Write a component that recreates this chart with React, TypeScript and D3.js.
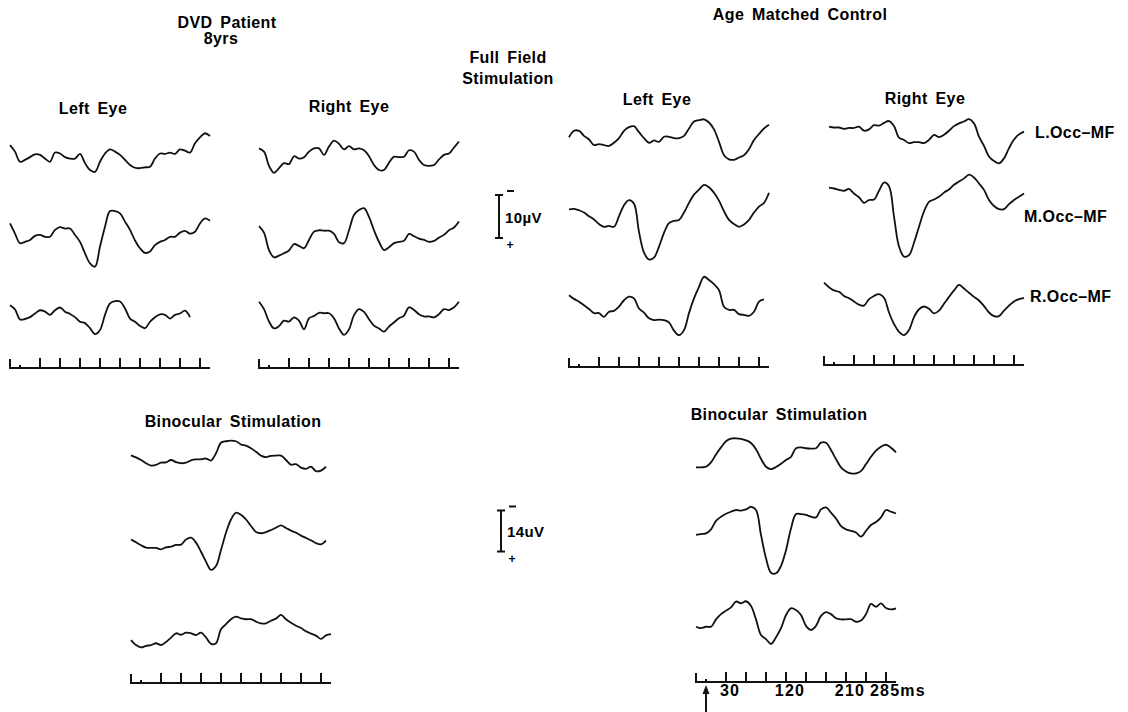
import React from "react";
import * as d3 from "d3";

const sampleMs = [
  -15, -7.5, 0, 7.5, 15, 22.5, 30, 37.5, 45, 52.5, 60, 67.5, 75, 82.5, 90, 97.5,
  105, 112.5, 120, 127.5, 135, 142.5, 150, 157.5, 165, 172.5, 180, 187.5, 195,
  202.5, 210, 217.5, 225, 232.5, 240, 247.5, 255, 262.5, 270, 277.5, 285,
];
const tickMs = [30, 60, 90, 120, 150, 180, 210, 240, 270];
const tickLabels = [
  { ms: 30, text: "30" },
  { ms: 120, text: "120" },
  { ms: 210, text: "210" },
];
const lastLabel = { ms: 285, text: "285ms" };

// DVD patient, left eye (µV, negative = up)
const dvdLeftL = [-2.5, -1.1, 1.1, 0.7, 0.1, -0.5, -0.4, 0.4, 1.1, -0.9, -0.7, 0.1, 0.4, 0.4, -0.6, 1.4, 2.9, 3.3, 1.1, -0.7, -1.6, -1.1, -0.4, 0.7, 1.8, 2.4, 2.5, 2.3, 2.2, 0.4, -0.7, -0.6, -0.9, -0.6, -1.6, -1.3, -0.9, -2.9, -4.2, -5.1, -4.5];
const dvdLeftM = [-3.6, -1.4, 0.7, 0.4, 0, -0.9, -1.1, -0.7, -0.7, -2.2, -2.8, -2.5, -2.5, -1.1, 0.4, 2.9, 5.1, 5.8, 1.4, -2.9, -6.3, -6.3, -5.8, -4.0, -2.2, 0.1, 1.8, 2.8, 2.5, 1.1, 0.4, 0, -0.7, -0.7, -1.6, -2.0, -1.4, -1.8, -3.6, -4.7, -4.2];
const dvdLeftR = [-2.5, -1.6, 0.6, 0.5, 0.1, -0.7, -1.4, -1.1, -0.4, -1.4, -2.0, -1.1, -0.6, 0.1, 1.1, 1.4, 2.5, 3.8, 2.9, -0.4, -2.9, -3.4, -3.3, -1.8, 0.4, 1.1, 2.0, 2.5, 1.1, 0.1, -0.5, -0.4, 0.4, -0.4, -0.7, -1.3, 0.1, null, null, null, null];

// DVD patient, right eye
const dvdRightL = [-1.8, -1.1, 2.0, 3.5, 2.5, 1.4, 1.6, -0.1, 0.4, 0.1, -1.1, -1.8, -1.8, -0.4, -2.2, -3.5, -2.8, -1.6, -2.3, -1.6, -1.8, -1.4, -0.1, 1.8, 2.9, 2.9, 1.3, 0, 0.1, 0, -1.4, -1.1, 0.7, 1.8, 2.0, 1.8, 0.6, -0.4, -0.7, -2.0, -3.3];
const dvdRightM = [-2.3, -0.9, 2.9, 4.5, 4.1, 3.6, 3.0, 1.6, 2.0, 2.5, 0.7, -1.1, -1.4, -1.3, -1.3, -0.6, 1.2, 1.4, -1.4, -4.7, -5.8, -6.2, -4.3, -1.4, 1.1, 2.9, 2.3, 1.4, 1.1, 0.9, -0.6, -0.1, 0.4, 0.7, 1.1, 0.9, 0.2, -0.4, -1.4, -2.0, -3.3];
const dvdRightR = [-3.6, -2.0, 0.7, 2.2, 1.7, 0.5, 0.7, -0.2, 0.5, 2.4, 0, -0.5, -1.2, -1.1, -1.1, 0, 2.2, 3.6, 2.4, -0.7, -2.0, -1.4, 0.2, 1.6, 2.2, 2.9, 1.8, 0.9, 0, -0.6, -2.4, -1.8, -0.9, -0.4, -0.4, -0.2, -0.9, -2.0, -1.8, -2.4, -3.6];

// age matched control, left eye
const ctrlLeftL = [-0.6, -2.0, -2.0, -0.9, -0.1, 1.1, 0.9, 1.1, 1.3, 0.6, -0.4, -2.0, -2.8, -3.0, -1.7, -0.4, 0.6, 0.1, 0.4, -0.7, -0.7, -0.4, -0.4, -0.9, -2.5, -4.0, -4.3, -4.5, -3.8, -2.3, 0.4, 3.3, 4.2, 4.3, 3.8, 3.3, 2.0, 0, -1.3, -2.5, -3.3];
const ctrlLeftM = [-1.6, -1.7, -1.4, -0.9, -0.1, 0.6, 1.6, 2.2, 2.0, 2.2, -0.1, -2.5, -3.6, -2.8, 3.3, 7.8, 9.3, 8.9, 6.5, 3.5, 1.4, 0.9, 0.7, -0.9, -3.0, -4.8, -5.9, -6.9, -6.4, -5.2, -3.5, -1.2, 0.7, 1.6, 2.2, 1.7, 0.7, -0.9, -2.2, -3.0, -5.2];
const ctrlLeftR = [-2.5, -1.7, -1.1, -0.3, 0.5, 1.4, 1.4, 2.2, 1.1, 0.9, 0, -1.4, -2.2, -1.8, 0.4, 1.3, 2.5, 2.9, 2.8, 2.9, 3.4, 5.2, 6.2, 5.1, 1.4, -1.8, -4.3, -6.5, -5.8, -4.9, -3.6, 0, 0.7, 0.7, 1.6, 1.8, 2.0, 1.1, -1.1, -1.6, null];

// age matched control, right eye
const ctrlRightL = [null, -2.2, -2.0, -2.0, -1.7, -1.9, -1.9, -2.2, -1.3, -1.6, -2.5, -2.4, -3.0, -3.4, -2.3, 0.2, 0.7, 1.4, 1.2, 1.2, 1.4, 0.7, -0.4, 0.1, -0.4, -1.3, -2.3, -2.9, -3.3, -3.8, -2.9, 0, 2.0, 4.3, 5.3, 5.8, 4.7, 2.5, 0.6, -0.5, -1.1];
const ctrlRightM = [null, -2.7, -2.5, -2.2, -2.0, -2.4, -1.4, -0.6, 0.6, 0, -0.1, -2.0, -3.8, -3.0, 3.6, 10.1, 12.3, 12.0, 9.3, 5.8, 2.5, 0.4, -0.1, -0.7, -1.6, -2.3, -3.3, -4.0, -4.7, -5.5, -4.9, -3.6, -2.2, 0, 1.3, 2.0, 2.0, 0.9, 0, -0.7, -1.4];
const ctrlRightR = [-4.5, -3.5, -2.8, -2.5, -1.6, -1.1, -0.4, 0.3, 0.5, -0.9, -1.6, -2.0, -1.2, 2.0, 4.5, 6.2, 6.9, 5.8, 3.0, 1.3, 0.7, 1.2, 2.2, 1.6, 0.1, -1.4, -2.8, -4.0, -3.2, -2.3, -1.4, -0.6, 0.6, 2.0, 2.8, 2.8, 1.6, 0.5, -0.4, -0.9, -1.2];

// binocular stimulation, DVD patient
const dvdBinL = [-1.6, -0.9, 0, 1.1, 1.9, 1.7, 0.9, 0.8, 0, 0.7, 1.1, 0.9, 0.1, -0.2, -0.2, -0.5, 0.2, -2.3, -5.9, -6.4, -6.6, -6.4, -5.3, -4.9, -4.0, -2.8, -1.5, -1.0, -1.4, -1.5, -1.5, 0, 1.6, 1.4, 2.6, 3.0, 2.3, 3.8, 3.6, 2.3, null];
const dvdBinM = [-0.2, 0.8, 1.8, 2.6, 2.7, 2.7, 3.2, 2.5, 2.3, 1.7, 1.6, -0.2, -0.8, 0.9, 4.0, 7.4, 10.2, 8.9, 3.4, -2.5, -7.0, -9.3, -8.6, -7.0, -4.8, -2.7, -2.3, -2.7, -3.4, -4.2, -5.0, -4.1, -3.2, -2.5, -1.5, -0.7, 0.1, 1.1, 1.5, 0.2, null];
const dvdBinR = [2.3, 4.0, 4.8, 4.3, 4.0, 3.4, 4.0, 3.0, 1.5, 0, 0.5, -0.2, 0, 0.6, -0.2, 1.4, 3.6, 3.4, -1.4, -3.1, -4.8, -5.7, -5.1, -4.8, -4.8, -4.0, -3.4, -3.4, -4.3, -5.0, -6.3, -4.8, -3.6, -2.6, -1.8, -0.7, 0.1, 0.8, 1.9, 0.7, 0.3];

// binocular stimulation, control
const ctrlBinL = [4.2, 4.2, 4.0, 2.5, -0.2, -2.6, -4.7, -5.6, -5.7, -5.5, -5.0, -4.1, -2.0, 1.3, 4.0, 4.8, 4.1, 3.0, 1.7, 0.6, -2.3, -2.6, -2.3, -2.2, -2.3, -4.2, -4.2, -1.7, 1.4, 4.2, 5.6, 6.3, 6.3, 5.5, 3.1, 0.6, -1.5, -2.8, -3.5, -2.5, -0.9];
const ctrlBinM = [2.8, 2.5, 2.3, 0.9, -2.0, -3.4, -4.4, -5.1, -5.7, -5.5, -5.9, -6.8, -5.7, 2.8, 10.8, 15.7, 15.9, 13.4, 8.0, 0.6, -4.3, -4.3, -4.0, -3.4, -3.2, -5.9, -6.6, -4.8, -2.8, -0.2, 0.9, 1.4, 2.0, 3.4, 1.4, -0.6, -1.6, -3.2, -5.7, -5.1, -4.5];
const ctrlBinR = [2.3, 2.8, 2.3, 2.3, -0.2, -2.0, -3.2, -4.3, -6.3, -5.7, -6.4, -4.8, -0.2, 5.1, 6.5, 8.2, 5.9, 2.8, -1.7, -4.0, -3.4, -1.7, 2.0, 3.4, 2.0, -1.4, -2.7, -2.0, -0.6, -0.2, -0.2, -0.3, 0.6, 0.2, -2.0, -5.5, -4.5, -5.7, -4.1, -3.6, -4.0];

const channelNames = ["L.Occ\u2013MF", "M.Occ\u2013MF", "R.Occ\u2013MF"];

// layout of the six panels (pixels per µV differs for the binocular ones)
const panels = [
  { left: 10, axisY: 368, k: 4.6, rows: [dvdLeftL, dvdLeftM, dvdLeftR], baseY: [156.7, 240, 316.7] },
  { left: 259, axisY: 368, k: 4.6, rows: [dvdRightL, dvdRightM, dvdRightR], baseY: [156.7, 236.7, 318.3] },
  { left: 569, axisY: 367, k: 4.6, rows: [ctrlLeftL, ctrlLeftM, ctrlLeftR], baseY: [140, 216.7, 306.7] },
  { left: 824, axisY: 365, k: 4.6, rows: [ctrlRightL, ctrlRightM, ctrlRightR], baseY: [136.7, 200, 303.3] },
  { left: 131, axisY: 683, k: 2.93, rows: [dvdBinL, dvdBinM, dvdBinR], baseY: [460, 540, 633.3] },
  { left: 696, axisY: 682, k: 2.93, rows: [ctrlBinL, ctrlBinM, ctrlBinR], baseY: [455, 526.7, 620] },
];

const font = "'Liberation Sans', Arial, Helvetica, sans-serif";

const Label = ({ x, y, children, anchor = "middle", size = 16, spacing = 0.4 }) => (
  <text
    x={x}
    y={y}
    textAnchor={anchor}
    fontFamily={font}
    fontWeight="bold"
    fontSize={size}
    letterSpacing={spacing}
    wordSpacing={3}
    fill="#000"
  >
    {children}
  </text>
);

function Panel({ p, labelled }) {
  const x = d3.scaleLinear().domain([-15, 285]).range([p.left, p.left + 200]);
  return (
    <g>
      {p.rows.map((vals, r) => {
        const y = d3
          .scaleLinear()
          .domain([-10, 10])
          .range([p.baseY[r] - 10 * p.k, p.baseY[r] + 10 * p.k]);
        const line = d3
          .line()
          .defined((d) => d[1] !== null)
          .x((d) => x(d[0]))
          .y((d) => y(d[1]))
          .curve(d3.curveCatmullRom.alpha(0.5));
        const pts = sampleMs.map((t, i) => [t, vals[i]]);
        return (
          <path
            key={r}
            d={line(pts)}
            fill="none"
            stroke="#111"
            strokeWidth={1.8}
            strokeLinejoin="round"
          />
        );
      })}
      {/* time axis */}
      <line x1={x(-15)} x2={x(285)} y1={p.axisY} y2={p.axisY} stroke="#111" strokeWidth={2} />
      <line x1={x(-15)} x2={x(-15)} y1={p.axisY - 9} y2={p.axisY + 1} stroke="#111" strokeWidth={2} />
      <line x1={x(0)} x2={x(0)} y1={p.axisY - 3} y2={p.axisY} stroke="#111" strokeWidth={2} />
      {tickMs.map((t) => (
        <line key={t} x1={x(t)} x2={x(t)} y1={p.axisY - 10} y2={p.axisY} stroke="#111" strokeWidth={2} />
      ))}
      {labelled && (
        <g>
          {tickLabels.map((d) => (
            <Label key={d.ms} x={x(d.ms) + 4} y={p.axisY + 14} size={16} spacing={1.2}>
              {d.text}
            </Label>
          ))}
          <Label x={x(lastLabel.ms) - 26} y={p.axisY + 14} size={16} spacing={1.2} anchor="start">
            {lastLabel.text}
          </Label>
          {/* stimulus onset arrow */}
          <line x1={x(0)} x2={x(0)} y1={p.axisY + 10} y2={712} stroke="#111" strokeWidth={2} />
          <path d={`M${x(0)},${p.axisY + 3} l-3.5,9 l7,0 z`} fill="#111" />
        </g>
      )}
    </g>
  );
}

function ScaleBar({ cx, cy, k, uv, text }) {
  const y = d3.scaleLinear().domain([-uv / 2, uv / 2]).range([cy - (uv / 2) * k, cy + (uv / 2) * k]);
  const top = y(-uv / 2);
  const bot = y(uv / 2);
  return (
    <g>
      <line x1={cx} x2={cx} y1={top} y2={bot} stroke="#111" strokeWidth={2} />
      <line x1={cx - 4} x2={cx + 4} y1={top} y2={top} stroke="#111" strokeWidth={2} />
      <line x1={cx - 4} x2={cx + 4} y1={bot} y2={bot} stroke="#111" strokeWidth={2} />
      <line x1={cx + 8} x2={cx + 15} y1={top - 4} y2={top - 4} stroke="#111" strokeWidth={2} />
      <text x={cx + 11} y={bot + 11} textAnchor="middle" fontFamily={font} fontWeight="bold" fontSize={12}>
        +
      </text>
      <Label x={cx + 6} y={cy + 6} anchor="start" size={15}>
        {text}
      </Label>
    </g>
  );
}

export default function App() {
  return (
    <svg
      width={1128}
      height={712}
      style={{ position: "absolute", left: 0, top: 0, background: "#fff" }}
    >
      <rect width={1128} height={712} fill="#fff" />
      <Label x={227} y={28}>DVD Patient</Label>
      <Label x={221} y={44}>8yrs</Label>
      <Label x={800} y={20}>Age Matched Control</Label>
      <Label x={508} y={63}>Full Field</Label>
      <Label x={508} y={84}>Stimulation</Label>
      <Label x={93} y={114}>Left Eye</Label>
      <Label x={349} y={112}>Right Eye</Label>
      <Label x={657} y={105}>Left Eye</Label>
      <Label x={925} y={104}>Right Eye</Label>
      <Label x={233} y={427}>Binocular Stimulation</Label>
      <Label x={779} y={420}>Binocular Stimulation</Label>
      <Label x={1035} y={138} anchor="start">{channelNames[0]}</Label>
      <Label x={1024} y={222} anchor="start">{channelNames[1]}</Label>
      <Label x={1030} y={302} anchor="start">{channelNames[2]}</Label>

      {panels.map((p, i) => (
        <Panel key={i} p={p} labelled={i === 5} />
      ))}

      <ScaleBar cx={499} cy={216.5} k={4.3} uv={10} text={"10\u00b5V"} />
      <ScaleBar cx={501} cy={531} k={2.93} uv={14} text="14uV" />
    </svg>
  );
}
